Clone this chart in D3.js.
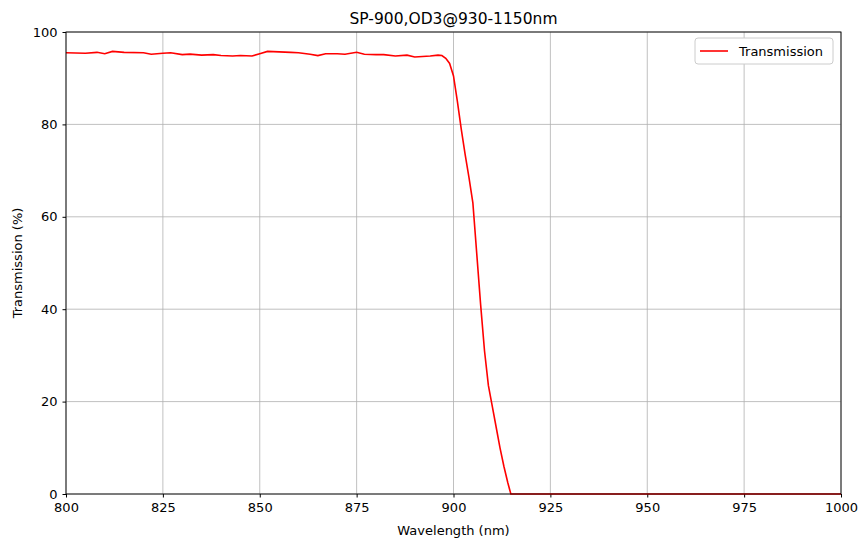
<!DOCTYPE html>
<html><head><meta charset="utf-8">
<script src="https://cdn.jsdelivr.net/npm/d3@7"></script>
<style>body{margin:0;background:#fff}text{font-family:"DejaVu Sans",sans-serif}</style>
</head><body>
<svg width="868" height="547"></svg>
<script>
var wavelength = [800,805,808,810,812,815,820,822,825,827,830,832,835,838,840,843,845,848,850,852,855,858,860,863,865,867,870,872,875,877,880,882,885,888,890,892,894,896,897,898,899,900,901,902,903,904,905,906,907,908,909,910,911,912,913,914,914.8,1000];
var transmission = [95.5,95.4,95.6,95.3,95.8,95.6,95.5,95.2,95.4,95.5,95.1,95.2,95.0,95.1,94.9,94.8,94.9,94.8,95.3,95.8,95.7,95.6,95.5,95.2,94.9,95.3,95.3,95.2,95.6,95.2,95.1,95.1,94.8,95.0,94.6,94.7,94.8,95.0,94.9,94.3,93.2,90.5,85,79,73.5,68.5,63,52,41,31,23.5,19,14.5,10,6,2.5,0,0];
var xTicks = [800,825,850,875,900,925,950,975,1000];
var yTicks = [0,20,40,60,80,100];

var svg = d3.select("svg"),
    pL = 66, pR = 841, pT = 32, pB = 494;
var x = d3.scaleLinear().domain([800,1000]).range([pL,pR]),
    y = d3.scaleLinear().domain([0,100]).range([pB,pT]);

// grid
svg.append("g").selectAll("line").data(xTicks).enter().append("line")
  .attr("x1", d => x(d)).attr("x2", d => x(d)).attr("y1", pT).attr("y2", pB)
  .attr("stroke", "#b0b0b0").attr("stroke-width", 0.8);
svg.append("g").selectAll("line").data(yTicks).enter().append("line")
  .attr("y1", d => y(d)).attr("y2", d => y(d)).attr("x1", pL).attr("x2", pR)
  .attr("stroke", "#b0b0b0").attr("stroke-width", 0.8);

svg.append("g").attr("transform", "translate(0," + pB + ")")
  .call(d3.axisBottom(x).tickValues(xTicks).tickSize(3.5).tickPadding(5).tickFormat(d3.format("d")))
  .call(g => g.selectAll("text").attr("font-size", 13).attr("fill", "#000"))
  .call(g => g.select(".domain").remove());
svg.append("g").attr("transform", "translate(" + pL + ",0)")
  .call(d3.axisLeft(y).tickValues(yTicks).tickSize(3.5).tickPadding(5))
  .call(g => g.selectAll("text").attr("font-size", 13).attr("fill", "#000"))
  .call(g => g.select(".domain").remove());

var pts = wavelength.map((w, i) => [w, transmission[i]]);
svg.append("path").datum(pts)
  .attr("fill", "none").attr("stroke", "#ff0000").attr("stroke-width", 1.6)
  .attr("d", d3.line().x(d => x(d[0])).y(d => y(d[1])));

svg.append("rect").attr("x", pL).attr("y", pT).attr("width", pR-pL).attr("height", pB-pT)
  .attr("fill", "none").attr("stroke", "#000").attr("stroke-width", 0.9);

svg.append("text").attr("x", (pL+pR)/2).attr("y", 24).attr("text-anchor", "middle")
  .attr("font-size", 15.5).text("SP-900,OD3@930-1150nm");
svg.append("text").attr("x", (pL+pR)/2).attr("y", 535).attr("text-anchor", "middle")
  .attr("font-size", 13).text("Wavelength (nm)");
svg.append("text").attr("transform", "translate(22," + (pT+pB)/2 + ") rotate(-90)")
  .attr("text-anchor", "middle").attr("font-size", 13).text("Transmission (%)");

var lg = svg.append("g").attr("transform", "translate(695,38)");
lg.append("rect").attr("width", 138).attr("height", 26).attr("rx", 3)
  .attr("fill", "#fff").attr("stroke", "#ccc");
lg.append("line").attr("x1", 5).attr("x2", 33).attr("y1", 13).attr("y2", 13)
  .attr("stroke", "#ff0000").attr("stroke-width", 1.6);
lg.append("text").attr("x", 44).attr("y", 18).attr("font-size", 13).text("Transmission");
</script>
</body></html>
